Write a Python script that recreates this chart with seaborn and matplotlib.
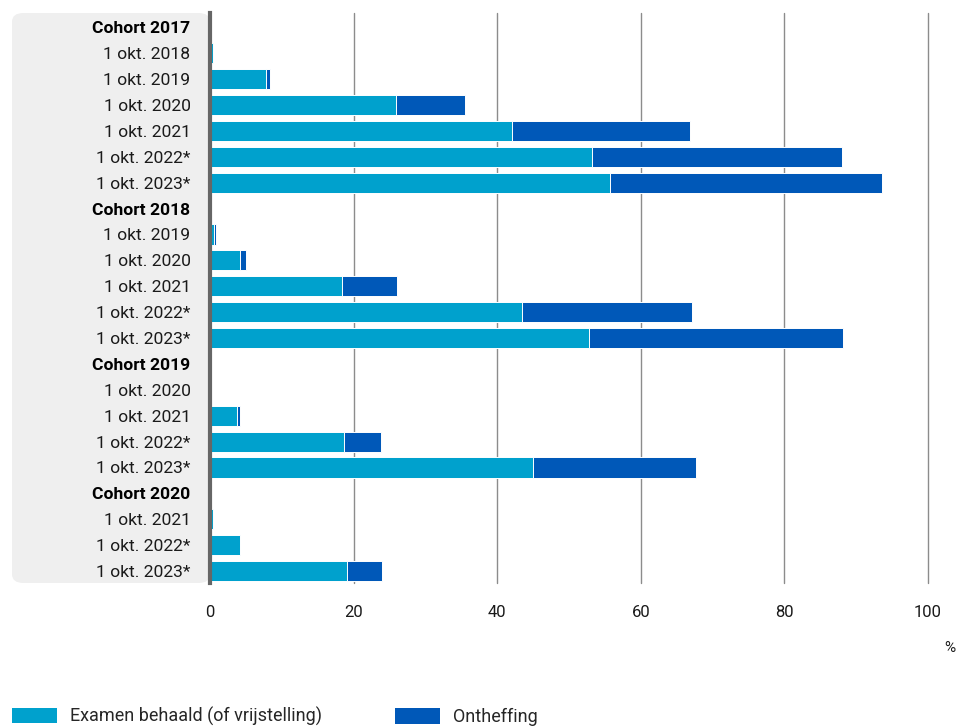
import pandas as pd
import matplotlib
matplotlib.use("Agg")
import matplotlib.pyplot as plt
from matplotlib.patches import FancyBboxPatch, Patch
import seaborn as sns

# rows top to bottom, each cohort gets a header row
cohorts = ["Cohort 2017", "Cohort 2018", "Cohort 2019", "Cohort 2020"]
moments = [
    ["1 okt. 2018", "1 okt. 2019", "1 okt. 2020", "1 okt. 2021", "1 okt. 2022*", "1 okt. 2023*"],
    ["1 okt. 2019", "1 okt. 2020", "1 okt. 2021", "1 okt. 2022*", "1 okt. 2023*"],
    ["1 okt. 2020", "1 okt. 2021", "1 okt. 2022*", "1 okt. 2023*"],
    ["1 okt. 2021", "1 okt. 2022*", "1 okt. 2023*"],
]
examen = [
    [0.4, 7.8, 25.9, 42.1, 53.2, 55.7],
    [0.5, 4.2, 18.4, 43.5, 52.8],
    [0.1, 3.7, 18.6, 45.0],
    [0.4, 4.2, 19.1],
]
ontheffing = [
    [0.0, 0.6, 9.6, 24.7, 34.8, 37.9],
    [0.4, 0.8, 7.7, 23.6, 35.4],
    [0.0, 0.5, 5.2, 22.7],
    [0.0, 0.0, 4.9],
]

LIGHT = "#00a1cd"
DARK = "#0058b8"

rows = []
for c, ms, ex, on in zip(cohorts, moments, examen, ontheffing):
    rows.append({"key": c, "label": c, "header": True, "examen": 0.0, "totaal": 0.0})
    for m, e, o in zip(ms, ex, on):
        rows.append({"key": c + "|" + m, "label": m, "header": False, "examen": e, "totaal": e + o})
df = pd.DataFrame(rows)
order = list(df["key"])

sns.set_style("white")
plt.rcParams["font.family"] = ["Roboto", "DejaVu Sans"]

W, H = 959, 726
fig = plt.figure(figsize=(W / 100, H / 100), dpi=100)

# grey label panel behind the category labels
panel = FancyBboxPatch((12 / W, 1 - 583 / H), (210 - 12) / W, (583 - 13) / H,
                       boxstyle="round,pad=0,rounding_size=0.012",
                       transform=fig.transFigure, facecolor="#efefef", edgecolor="none", zorder=-5)
fig.patches.append(panel)

ax = fig.add_axes([210 / W, 1 - 583 / H, (928 - 210) / W, (583 - 13) / H])
ax.patch.set_alpha(0)

# totals in dark blue, exam part drawn over it in light blue
sns.barplot(data=df, y="key", x="totaal", order=order, orient="h", color=DARK,
            width=0.78, edgecolor="white", linewidth=0.7, saturation=1, ax=ax, zorder=3)
sns.barplot(data=df, y="key", x="examen", order=order, orient="h", color=LIGHT,
            width=0.78, edgecolor="white", linewidth=0.7, saturation=1, ax=ax, zorder=4)

ax.set_xlim(0, 100)
ax.set_ylim(len(order) - 1 + 0.46, -0.55)
ax.set_xticks([0, 20, 40, 60, 80, 100])
ax.set_xlabel("")
ax.set_ylabel("")
ax.grid(axis="x", color="#8c8c8c", linewidth=1, zorder=1)
ax.grid(axis="y", visible=False)
for gl in ax.get_xgridlines():
    gl.set_clip_on(False)
for s in ["top", "right", "bottom"]:
    ax.spines[s].set_visible(False)
ax.spines["left"].set_color("#666666")
ax.spines["left"].set_linewidth(3)
ax.spines["left"].set_zorder(5)

ax.set_yticks(range(len(order)))
ax.set_yticklabels(df["label"], fontsize=12.6, color="#1a1a1a")
for t, h in zip(ax.get_yticklabels(), df["header"]):
    if h:
        t.set_fontweight("bold")
        t.set_color("black")
ax.tick_params(axis="y", length=0, pad=14)
ax.tick_params(axis="x", length=0, pad=16, labelsize=12, labelcolor="#1a1a1a")

fig.text(950 / W, 1 - 648 / H, "%", fontsize=11, ha="center", va="center", color="#1a1a1a")

# legend, one entry per box so each sits where the reference has it
labels = ["Examen behaald (of vrijstelling)", "Ontheffing"]
xs = [12, 395]
for lab, col, x in zip(labels, [LIGHT, DARK], xs):
    fig.legend([Patch(facecolor=col, edgecolor="none")], [lab], loc="lower left",
               bbox_to_anchor=(x / W, 0), frameon=False, fontsize=13,
               borderpad=0, borderaxespad=0, handlelength=2.5, handleheight=0.95,
               handletextpad=0.7)

fig.savefig("out.png", dpi=100)
